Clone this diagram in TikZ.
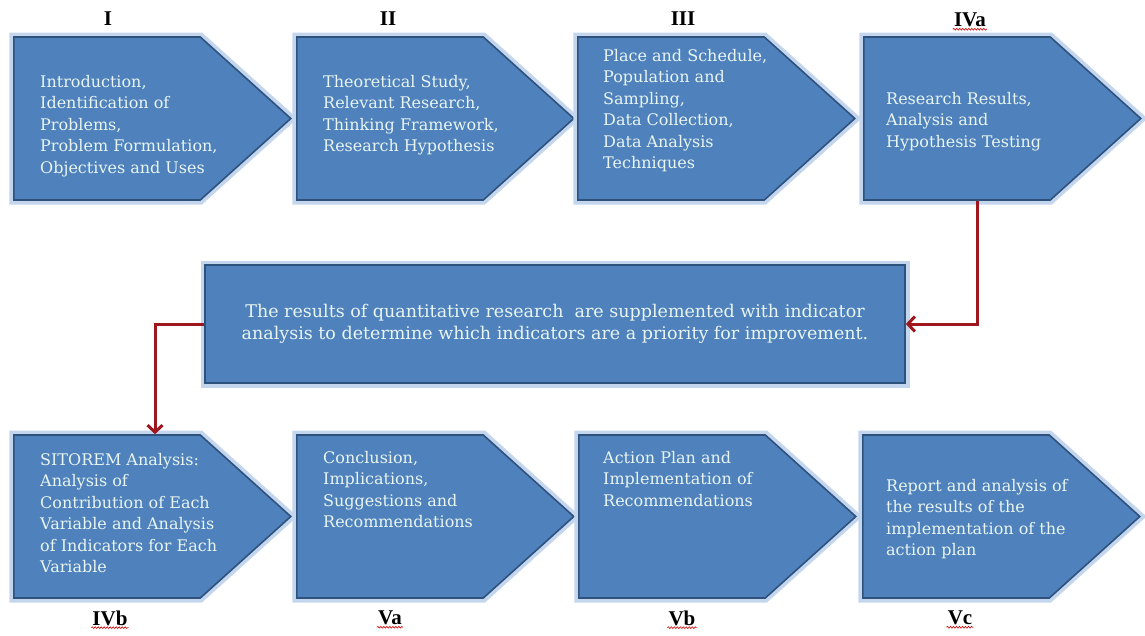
\documentclass[tikz,border=0pt]{standalone}
\usepackage{fontspec}
\setmainfont{DejaVu Serif}
\newfontfamily\phasefont{Liberation Serif}
\usepackage{tikz}
\usetikzlibrary{shapes.symbols}
\usetikzlibrary{arrows.meta}
\usetikzlibrary{decorations.pathmorphing}
\definecolor{stageblue}{RGB}{79,129,189}
\definecolor{stageedge}{RGB}{47,82,125}
\definecolor{stageglow}{RGB}{196,214,238}
\definecolor{stagetext}{RGB}{232,245,240}
\definecolor{linkred}{RGB}{158,22,30}

\tikzset{
  stage/.style={signal,signal to=east,signal pointer angle=84,minimum width=277pt,minimum height=163pt,inner sep=0pt,anchor=west,
    fill=stageblue,draw=stageedge,line width=1.6pt,preaction={draw=stageglow,line width=9pt}},
  stagetxt/.style={anchor=north west,inner sep=0pt,align=left,text=stagetext,font=\fontsize{16}{21.5}\selectfont},
  phase/.style={inner sep=1pt,font=\phasefont\bfseries\fontsize{21}{21}\selectfont},
  spell/.style={draw=red!80!black,line width=0.6pt,decorate,decoration={snake,amplitude=0.9pt,segment length=3pt}},
  link/.style={draw=linkred,line width=3pt,-{Straight Barb[length=7pt,width=15pt]}}
}

\begin{document}
\begin{tikzpicture}[x=1pt,y=-1pt]
\useasboundingbox (0,0) rectangle (1145,635);
% upper row
\path (13,118.5) node(a1) [stage]{};
\path (296,118.5) node(a2) [stage]{};
\path (577,118.5) node(a3) [stage]{};
\path (863,118.5) node(a4) [stage]{};
\path (40,75) node(ta1) [stagetxt]{Introduction,\\
Identification of\\
Problems,\\
Problem Formulation,\\
Objectives and Uses};
\path (323,75) node(ta2) [stagetxt]{Theoretical Study,\\
Relevant Research,\\
Thinking Framework,\\
Research Hypothesis};
\path (603,49) node(ta3) [stagetxt]{Place and Schedule,\\
Population and\\
Sampling,\\
Data Collection,\\
Data Analysis\\
Techniques};
\path (886,92) node(ta4) [stagetxt]{Research Results,\\
Analysis and\\
Hypothesis Testing};
\path (108,19) node(la1) [phase]{I};
\path (388,19) node(la2) [phase]{II};
\path (683,19) node(la3) [phase]{III};
\path (970,20) node(la4) [phase]{IVa};
% middle box
\path (555,324) node(m) [rectangle,minimum width=700pt,minimum height=118pt,inner sep=0pt,
  fill=stageblue,draw=stageedge,line width=1.6pt,preaction={draw=stageglow,line width=9pt},
  align=center,text=stagetext,font=\fontsize{17.5}{22}\selectfont]{The results of quantitative research\ \ are supplemented with indicator\\
analysis to determine which indicators are a priority for improvement.};
% lower row
\path (13,516.5) node(b1) [stage]{};
\path (296,516.5) node(b2) [stage]{};
\path (578,516.5) node(b3) [stage]{};
\path (862,516.5) node(b4) [stage]{};
\path (40,453) node(tb1) [stagetxt]{SITOREM Analysis:\\
Analysis of\\
Contribution of Each\\
Variable and Analysis\\
of Indicators for Each\\
Variable};
\path (323,451) node(tb2) [stagetxt]{Conclusion,\\
Implications,\\
Suggestions and\\
Recommendations};
\path (603,451) node(tb3) [stagetxt]{Action Plan and\\
Implementation of\\
Recommendations};
\path (886,479) node(tb4) [stagetxt]{Report and analysis of\\
the results of the\\
implementation of the\\
action\ plan};
\path (110,618) node(lb1) [phase]{IVb};
\path (390,618) node(lb2) [phase]{Va};
\path (682,618) node(lb3) [phase]{Vb};
\path (960,618) node(lb4) [phase]{Vc};
\foreach \n in {la4,lb1,lb2,lb3,lb4}
  \draw[spell] ([yshift=-1pt]\n.south west) -- ([yshift=-1pt]\n.south east);
% connectors
\coordinate (k1) at (977,0);
\coordinate (k2) at (155,0);
\draw[link] (a4.south -| k1) |- (m.east);
\draw[link] (m.west) -| (k2 |- b1.north);
\end{tikzpicture}
\end{document}
